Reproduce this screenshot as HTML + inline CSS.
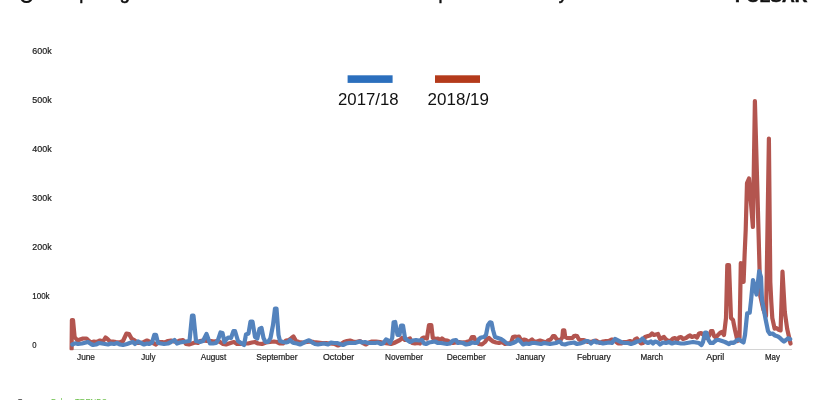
<!DOCTYPE html>
<html lang="en"><head><meta charset="utf-8"><title>Pulsar TRENDS chart</title>
<style>html,body{margin:0;padding:0;background:#fff;overflow:hidden}svg{display:block}</style></head>
<body>
<svg width="840" height="400" viewBox="0 0 840 400">
<rect width="840" height="400" fill="#fff"/>
<g font-family="'Liberation Sans', sans-serif" fill="#111" stroke="#111" stroke-width="0.5">
<circle cx="26.5" cy="-3.6" r="5.7" fill="none" stroke="#111" stroke-width="2"/>
<text x="40.6" y="-0.9" font-size="20" textLength="89.4" lengthAdjust="spacingAndGlyphs">Comparing</text>
<text x="142" y="-0.9" font-size="20">social conversation volume for each</text>
<text x="438.6" y="-0.9" font-size="20" textLength="129" lengthAdjust="spacingAndGlyphs">premiere weekly</text>
<text x="735" y="1.8" font-size="17" font-weight="bold" textLength="72.5" lengthAdjust="spacingAndGlyphs">PULSAR</text>
</g>
<g font-family="'Liberation Sans', sans-serif" font-size="9" fill="#1a1a1a" stroke="#1a1a1a" stroke-width="0.2">
<text x="32.3" y="54.2" textLength="19.3" lengthAdjust="spacingAndGlyphs">600k</text>
<text x="32.3" y="103.1" textLength="19.3" lengthAdjust="spacingAndGlyphs">500k</text>
<text x="32.3" y="152.1" textLength="19.3" lengthAdjust="spacingAndGlyphs">400k</text>
<text x="32.3" y="201.0" textLength="19.3" lengthAdjust="spacingAndGlyphs">300k</text>
<text x="32.3" y="250.0" textLength="19.3" lengthAdjust="spacingAndGlyphs">200k</text>
<text x="32.3" y="298.9" textLength="17.3" lengthAdjust="spacingAndGlyphs">100k</text>
<text x="32.3" y="347.8" textLength="4.3" lengthAdjust="spacingAndGlyphs">0</text>
</g>
<line x1="70" y1="349.5" x2="792" y2="349.5" stroke="#d4d4d4" stroke-width="1"/>
<g font-family="'Liberation Sans', sans-serif" font-size="9" fill="#1a1a1a" stroke="#1a1a1a" stroke-width="0.2" text-anchor="middle">
<text x="86" y="360" textLength="18" lengthAdjust="spacingAndGlyphs">June</text>
<text x="148.4" y="360" textLength="14.25" lengthAdjust="spacingAndGlyphs">July</text>
<text x="213.5" y="360" textLength="25.5" lengthAdjust="spacingAndGlyphs">August</text>
<text x="276.9" y="360" textLength="41.25" lengthAdjust="spacingAndGlyphs">September</text>
<text x="338.6" y="360" textLength="31.25" lengthAdjust="spacingAndGlyphs">October</text>
<text x="404" y="360" textLength="38" lengthAdjust="spacingAndGlyphs">November</text>
<text x="466.25" y="360" textLength="39" lengthAdjust="spacingAndGlyphs">December</text>
<text x="530.4" y="360" textLength="29.25" lengthAdjust="spacingAndGlyphs">January</text>
<text x="593.9" y="360" textLength="33.75" lengthAdjust="spacingAndGlyphs">February</text>
<text x="651.75" y="360" textLength="22.5" lengthAdjust="spacingAndGlyphs">March</text>
<text x="715.25" y="360" textLength="18" lengthAdjust="spacingAndGlyphs">April</text>
<text x="772.5" y="360" textLength="15" lengthAdjust="spacingAndGlyphs">May</text>
</g>
<rect x="347.6" y="75.3" width="45" height="7.6" fill="#2b6fbd"/>
<rect x="435" y="75.3" width="45" height="7.6" fill="#b43a1b"/>
<g font-family="'Liberation Sans', sans-serif" font-size="17" fill="#111" text-anchor="middle">
<text x="368.3" y="104.6" textLength="60.6" lengthAdjust="spacingAndGlyphs">2017/18</text>
<text x="458.3" y="104.6" textLength="61.4" lengthAdjust="spacingAndGlyphs">2018/19</text>
</g>
<clipPath id="plot"><rect x="60" y="40" width="760" height="310.2"/></clipPath><g clip-path="url(#plot)">
<polyline points="71.6,349 71.9,320 73,320 74.6,337 77.5,340.5 80,339.5 83,338.5 86.5,338.5 89,341 91,342.5 94,341.5 97,342 100,340.5 103,341.5 105.5,337.5 108,339.5 110,341.5 113,341.5 116,342 120,342.5 123,341 126.5,333.5 129,334 131.5,338.5 134,340 138,343 141,343 144,342 147,340.5 150,342 153,343 156,344.5 159,342 162,342 165,342.5 168,341 171,340.5 174,341.5 177,342 180,340.5 183,340 186,344 189,344.5 192,343.5 195,342.5 198,343 200,341 203,340.5 207,341 211,341 214,341.5 217,341 220,342 223,344 226,344.5 229,343.5 232,342.5 234,342 237,344 240,344 244,343.5 248,343.5 252,342.5 255,342 258,343.5 262,344 266,342.5 270,342 274,341.5 277,342 280,343.5 283,343.5 286,340.5 289,340 291,338.5 293.5,336.5 296,341 299,342 303,342.5 307,342 311,341.5 314,342 318,342.5 322,343 326,343 330,343.5 335,344 338,345.5 341,344 344,342 347,341 350,340.5 353,341.5 356,342 360,341 363,343 366,344.5 369,342.5 372,341.5 376,341.5 380,342 384,343 388,343.5 391,344 394,343 397,341.5 400,340 402,338 405,340 408,339.5 410,338.5 412,343 415,343.5 418,343 420,343.5 422,338.5 424,337.5 426.9,338.5 429.0,325 431.3,325 432.8,338 436,339 438,338.5 440,340.5 442,338.5 444,340 447,340.5 450,342 453,343 456,342.5 459,342 462,342.5 466,342 470,341 472,337 474,337 476,342 479,344 482,344.5 485,342 487,339 489,338 491,340 493,341.5 496,342.5 499,343 502,342 505,344 508,343.5 511,343 513,337 515,336.5 517,337 519,336.5 521,340 522,341 524,339.5 526,340 528,342 530,341 532,339.5 534,341.5 537,341.5 540,340.5 543,341.5 546,342.5 548,340.5 550,339.8 551.5,338.5 553,336 554.5,336 556.5,339 558.7,340.2 561,339.5 562.4,337 563,330.3 564.3,330.3 565.2,337 567,338 570,338.2 572.5,338 574,336 575.5,335.7 577,336 579,339.5 581,340.2 584,340.2 586,341 588,342 592,341.5 596,340.5 600,343 603,341.5 606,341 609,341 612,339.5 615,341 618,343.5 621,343.5 624,342 627,342 630,341 633,342.5 635,339.5 637,338.5 639,341 641,343.5 643,343 645,337 648,336 650,335.5 652,333.5 654,335 656,334.5 658,334 660,339 662,338 664,337 666,339.5 668,341 671,340.5 673,338.5 675,338 677,340 679,337.5 681,337 683,339 686,338 688,336.5 690,335.5 692,337 695,336 697,337.5 699,333.5 701,333 703,334.5 706,338 709,336 711,331 712.5,331 714,336 716,337.5 718,335 720,333 722,332 724,335 726,318 727.3,265 729,265 731,318 733,320 735,330 737.5,341 739.5,338 740.8,263 743.6,282 744.6,255 745.7,230 747,183 749,178.5 752.9,227 754.9,101 760.3,296 763.5,310 766,316 766.6,285 768.9,138.5 770.3,282 771.3,302 772.3,318 774.6,328.6 776.5,328 778.5,329.8 780.6,330.4 782.5,271.5 784.8,312 787.2,329 790.5,343.5" fill="none" stroke="#b3554f" stroke-width="4.2" stroke-linejoin="round" stroke-linecap="round"/>
<polyline points="72.3,344.5 75,343.3 78,344 82,343.5 86,342.5 88,342 91,344 93,345 96,344.5 99,343 102,343.5 105,344 108,344.5 111,343.5 114,344 117,343 120,344.5 123,345 127,344 131,342.5 133,342 135,344 138,341.5 141,343 144,344.5 147,343.5 149,344 152,342.5 154.3,334.8 156,334.8 158,343 161,343.5 164,344 168,343.5 171,342 174.5,340 177,343.5 180,342.5 183,342 186,341.5 189.5,341 192,315.7 193.5,315.7 196,341 198,341.5 200,342 203,341 206.5,334 210,343.5 213,343.5 216,343 218,340 220.5,332.5 222.5,333 224.5,342 226.5,339 228.5,337.5 231,338 233.5,331 235,331 238,341 241,343 244,345 246,334.5 248.5,333.5 250.5,321.5 252.5,321.5 255,337 257.3,338.5 259.5,329 261.5,328 263.5,338 265.5,342 268,342 270.5,338 273,325 275,308.5 276.5,308.5 278.5,335 280,341 283,342 286,342.5 288,342 290,340 292,342 294,343 297,343.5 300,344.5 303,343 306,341.5 309,340.3 312,342.3 315,344 318,344.5 321,344 324,343.5 328,344.5 331,342.5 334,343 337,343 340,344 343,345 346,343.5 349,343 352,343 355,343 358,342 360,341.5 362,342.5 365,342 368,343 371,343 375,343 378,342.5 381,344 383,343.5 386,339.5 388,340.5 390,343 392.2,338 393.6,322.3 395.2,322 397.5,335 399.5,335 401,325.5 403,325.5 405,338 407,340 410,342 413,340.5 416,340 419,340.5 422,340 424,343.5 426,344 429,342.5 432,342 435,341.5 438,343 441,343 444,343.5 447,344 450,343.5 453,340.5 456,340 458,343 460,342.5 463,343 466,344.5 469,344 472,342.5 475,343 477,343 479,339 481,337.5 484,337 486,335 488,325 490,322.3 491.5,322.8 493,330 495,337 498,338 501,339 504,341 507,343.5 510,344 513,343 516,341.5 518,339.5 520,341 523,344.5 526,343.5 529,344 532,343 535,343 538,343.5 541,344 544,343 547,343.5 550,344 553,343.5 556,343 558,342 560,341.5 562,344 565,344.5 568,343.5 571,343 574,342.5 577,344 580,343.5 583,342.5 586,341 588,341 591,343.5 594,341 597,342.5 600,342.5 603,343.5 606,343 609,342.5 612,343 615,339 617,340 619,341 622,342.5 625,343 628,343 631,344 634,343 637,341.5 640,341 642.5,338.5 645,341.5 648,343 651,341.5 653,343.5 655,341.5 658,342.5 660,344.5 663,342.5 666,343 669,342 672,343.5 675,342.5 678,343 681,343.5 684,343.5 687,343 690,342.5 693,342 696,342.5 699,343 701.5,345 703,342 705,332.5 706.5,332.5 708.5,340 710.5,343 713,343 714,342 716.5,340 719,340 722,341 725,342 727,343 729,344 731,342.5 733,343 735,342 737,340 739,339.5 741,341 743.5,342.5 745,335 746.5,320 747.2,313.2 749.7,312.8 751.1,300 753,280 756.5,294.5 759.2,271 761,277 762,300 765.75,320 768,331 770,334 772.5,333.5 775,335.5 778,336.5 780,338 782,340 784,341.5 786,340 788,338.3 790.2,339.2" fill="none" stroke="#5483bd" stroke-width="4.2" stroke-linejoin="round" stroke-linecap="round"/>
</g>
<g font-family="'Liberation Sans', sans-serif" font-size="9">
<text x="17" y="405" fill="#222">Source:</text>
<text x="51" y="405" fill="#6cc04a" textLength="56" lengthAdjust="spacingAndGlyphs">Pulsar TRENDS</text>
</g>
</svg>
</body></html>
